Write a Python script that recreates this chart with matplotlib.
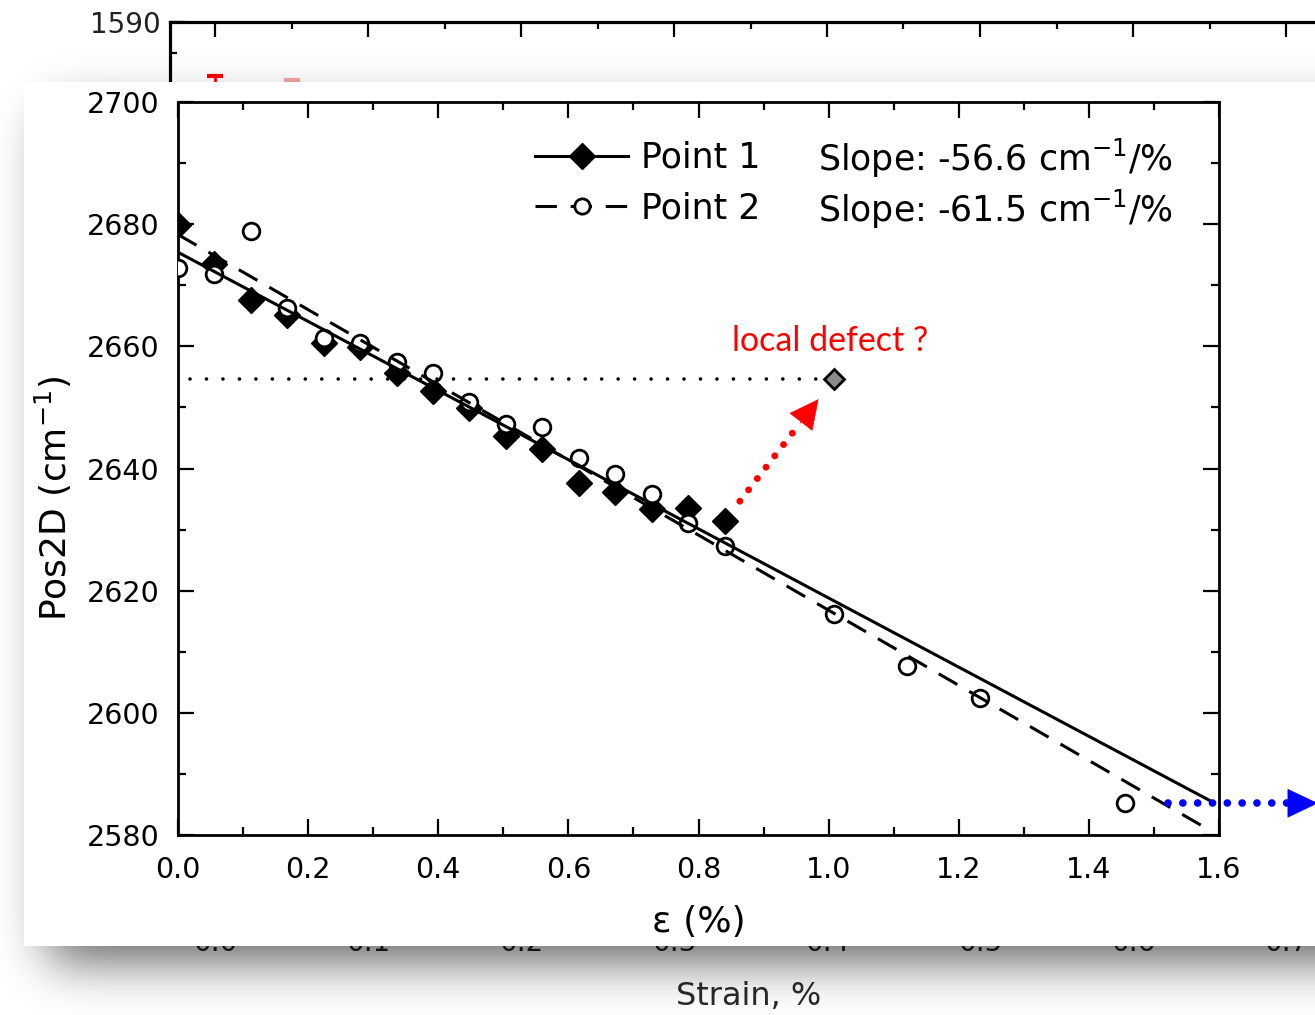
import math
import numpy as np
import matplotlib
matplotlib.use("Agg")
import matplotlib.pyplot as plt
from matplotlib.lines import Line2D
from matplotlib.patches import Rectangle
from matplotlib import font_manager as fm
from matplotlib.ticker import MultipleLocator, FixedLocator, FormatStrFormatter

# ---------------- data (front chart) ----------------
strain_p1 = [0.000, 0.056, 0.112, 0.168, 0.224, 0.280, 0.336, 0.392,
             0.448, 0.504, 0.560, 0.616, 0.672, 0.728, 0.784, 0.840]
pos2d_p1 = [2679.9, 2673.5, 2667.6, 2665.1, 2660.5, 2659.9, 2655.6, 2652.7,
            2649.9, 2645.3, 2643.2, 2637.6, 2636.1, 2633.4, 2633.5, 2631.4]

strain_p2 = [0.000, 0.056, 0.112, 0.168, 0.224, 0.280, 0.336, 0.392,
             0.448, 0.504, 0.560, 0.616, 0.672, 0.728, 0.784, 0.840,
             1.008, 1.120, 1.232, 1.456]
pos2d_p2 = [2672.8, 2671.8, 2678.9, 2666.3, 2661.4, 2660.5, 2657.4, 2655.6,
            2650.9, 2647.3, 2646.8, 2641.7, 2639.1, 2635.8, 2631.1, 2627.3,
            2616.2, 2607.7, 2602.4, 2585.2]

outlier_strain = [1.008]
outlier_pos2d = [2654.6]

fit1_intercept, fit1_slope = 2675.4, -56.6
fit2_intercept, fit2_slope = 2678.3, -61.5
fit_range = [0.0, 1.585]

series_labels = ["Point 1", "Point 2"]
slope_labels = ["Slope: -56.6 cm$^{-1}$/%", "Slope: -61.5 cm$^{-1}$/%"]
annotation_text = "local defect ?"
x_ticks = [0.0, 0.2, 0.4, 0.6, 0.8, 1.0, 1.2, 1.4, 1.6]
y_ticks = [2580, 2600, 2620, 2640, 2660, 2680, 2700]
x_label = "ε (%)"
y_label = "Pos2D (cm$^{-1}$)"

# ---------------- data (background chart, mostly hidden) ----------------
bg_x_ticks = [0.0, 0.1, 0.2, 0.3, 0.4, 0.5, 0.6, 0.7]
bg_y_ticks = [1590]
bg_strain = [0.0, 0.05]
bg_pos = [1582.9, 1582.5]
bg_err = [2.75, 2.8]
bg_x_label = "Strain, %"

# ---------------- fonts ----------------
available = {f.name for f in fm.fontManager.ttflist}


def pick(*names):
    for n in names:
        if n in available:
            return n
    return "DejaVu Sans"


plt.rcParams["font.family"] = ["DejaVu Sans"]
plt.rcParams["mathtext.fontset"] = "dejavusans"
plt.rcParams["mathtext.default"] = "regular"
red_font = pick("Lato", "Open Sans", "Noto Sans")

W, H = 1315, 1015
fig = plt.figure(figsize=(W / 100, H / 100), dpi=100)
fig.patch.set_facecolor("white")


def box(l, t, r, b):
    return [l / W, 1 - b / H, (r - l) / W, (b - t) / H]


# ---------------- background chart ----------------
bg = fig.add_axes(box(170, 22, 1360, 920), zorder=0)
bg.set_xlim(-45 / 1530, (1360 - 215) / 1530)
bg.set_ylim(bg_y_ticks[0] - 898 / 12.4, bg_y_ticks[0])
bg.spines["right"].set_visible(False)
for s in ["top", "left", "bottom"]:
    bg.spines[s].set_linewidth(2.3)
bg.xaxis.set_major_locator(FixedLocator(bg_x_ticks))
bg.xaxis.set_minor_locator(MultipleLocator(0.05))
bg.yaxis.set_major_locator(FixedLocator(bg_y_ticks))
bg.yaxis.set_minor_locator(MultipleLocator(2.5))
bg.xaxis.set_major_formatter(FormatStrFormatter("%.1f"))
bg.yaxis.set_major_formatter(FormatStrFormatter("%d"))
bg.tick_params(which="both", direction="in", top=True, right=False, width=1.6)
bg.tick_params(which="major", length=11)
bg.tick_params(which="minor", length=5)
bg.tick_params(axis="x", labelsize=20, pad=6.5, labelcolor="#222222")
bg.tick_params(axis="y", labelsize=20, pad=7, labelcolor="#222222")
bg.errorbar(bg_strain[:1], bg_pos[:1], yerr=bg_err[:1], fmt="s", color="red",
            ms=10, capsize=6, lw=2, capthick=3)
bg.errorbar(bg_strain[1:], bg_pos[1:], yerr=bg_err[1:], fmt="o", color="#f4a3a3",
            ms=10, capsize=6, lw=2, capthick=3)
bg.set_xlabel(bg_x_label, fontsize=23, color="#2a2a2a")
bg.xaxis.set_label_coords(749 / W, 1 - 981 / H, transform=fig.transFigure)

# ---------------- drop shadow of front panel ----------------
sh = fig.add_axes([0, 0, 1, 1], zorder=0.5)
sh.set_axis_off()
xs = np.arange(W) + 0.5
ys = np.arange(H) + 0.5
erf = np.vectorize(math.erf)


def Phi(z):
    return 0.5 * (1 + erf(z / math.sqrt(2)))


sig = 25.0
fxv = Phi((xs - 49) / sig) - Phi((xs - 1600) / sig)
fyv = Phi((ys - 112) / sig) - Phi((ys - 961) / sig)
alpha = 0.62 * np.outer(fyv, fxv)
img = np.zeros((H, W, 4))
img[..., 3] = alpha
sh.imshow(img, extent=[0, W, H, 0], interpolation="nearest", aspect="auto")
sh.set_xlim(0, W)
sh.set_ylim(H, 0)

# front panel
panel = Rectangle((24 / W, 1 - 946 / H), 1.2, (946 - 82) / H,
                  transform=fig.transFigure, facecolor="white",
                  edgecolor="none", zorder=1)
fig.add_artist(panel)

# ---------------- front chart ----------------
ax = fig.add_axes(box(178, 102, 1219, 835), zorder=2)
ax.patch.set_alpha(0)
ax.set_xlim(0, 1.6)
ax.set_ylim(2580, 2700)
for s in ax.spines.values():
    s.set_linewidth(2.0)
ax.xaxis.set_major_locator(FixedLocator(x_ticks))
ax.xaxis.set_minor_locator(MultipleLocator(0.1))
ax.yaxis.set_major_locator(FixedLocator(y_ticks))
ax.yaxis.set_minor_locator(MultipleLocator(10))
ax.xaxis.set_major_formatter(FormatStrFormatter("%.1f"))
ax.yaxis.set_major_formatter(FormatStrFormatter("%d"))
ax.tick_params(which="both", direction="in", top=True, right=True, width=1.6,
               labelsize=20.5)
ax.tick_params(which="major", length=11.5)
ax.tick_params(which="minor", length=5.8)
ax.tick_params(axis="x", pad=15)
ax.tick_params(axis="y", pad=13)

dash = (0, (7, 4.5))
ax.plot(strain_p1, pos2d_p1, "D", ms=13, mfc="black", mec="black", mew=1,
        ls="none", zorder=3)
ax.plot(strain_p2, pos2d_p2, "o", ms=12, mfc="white", mec="black", mew=2.0,
        ls="none", zorder=4)
fx = np.array(fit_range)
ax.plot(fx, fit1_intercept + fit1_slope * fx, color="black", lw=2.2, zorder=5)
ax.plot(fx, fit2_intercept + fit2_slope * fx, color="black", lw=2.2, ls=dash,
        zorder=5)

# outlier + guide
ax.plot([0.018, outlier_strain[0] - 0.008], [outlier_pos2d[0]] * 2, color="black",
        lw=2.6, ls=(0, (0.01, 4.55)), dash_capstyle="round", zorder=5)
ax.plot(outlier_strain, outlier_pos2d, "D", ms=10.5, mfc="#8c8c8c", mec="black",
        mew=2.0, zorder=6, clip_on=False)

# red arrow from last Point 1 towards the outlier
p = np.array([strain_p1[-1], pos2d_p1[-1]])
q = np.array([outlier_strain[0], outlier_pos2d[0]])
start = p + 0.14 * (q - p)
base = p + 0.69 * (q - p)
tip = p + 0.86 * (q - p)
ax.plot([start[0], base[0]], [start[1], base[1]], color="red", lw=5,
        ls=(0, (0.01, 2.05)), dash_capstyle="round", zorder=7, clip_on=False)
ax.annotate("", xy=tip, xytext=base,
            arrowprops=dict(arrowstyle="-|>,head_length=1.0,head_width=0.5",
                            mutation_scale=20, color="red", lw=0.5,
                            shrinkA=0, shrinkB=0), zorder=7)

# blue arrow at level of last Point 2
yb = pos2d_p2[-1]
ax.plot([1.522, 1.705], [yb, yb], color="#0000ff", lw=5.5,
        ls=(0, (0.01, 1.93)), dash_capstyle="round", zorder=7, clip_on=False)
ax.annotate("", xy=(1.752, yb), xytext=(1.705, yb), annotation_clip=False,
            arrowprops=dict(arrowstyle="-|>,head_length=1.05,head_width=0.5",
                            mutation_scale=20, color="#0000ff", lw=0.5,
                            shrinkA=0, shrinkB=0), zorder=7)

ax.text((830 - 178) / 1041, 1 - (341 - 102) / 733, annotation_text,
        transform=ax.transAxes, ha="center", va="center", fontsize=24.5,
        family=red_font, color="red", zorder=8)

# legend
handles = [
    Line2D([], [], color="black", lw=2.2, marker="D", ms=13, mfc="black",
           mec="black", mew=1),
    Line2D([], [], color="black", lw=2.2, ls=dash, marker="o", ms=11,
           mfc="white", mec="black", mew=2.0),
]
ax.legend(handles, series_labels, loc="upper left",
          bbox_to_anchor=((535 - 178) / 1041, 1 - (141 - 102) / 733),
          frameon=False, fontsize=25, handlelength=2.68, handletextpad=0.37,
          labelspacing=0.47, borderpad=0, borderaxespad=0)
for lbl, yc in zip(slope_labels, [171, 222]):
    ax.text((818 - 178) / 1041, 1 - (yc - 102) / 733, lbl, transform=ax.transAxes,
            ha="left", va="baseline", fontsize=25, zorder=8)

ax.set_xlabel(x_label, fontsize=26)
ax.xaxis.set_label_coords(0.5, (835 - 905) / 733)
ax.set_ylabel(y_label, fontsize=26)
ax.yaxis.set_label_coords((74 - 178) / 1041, (835 - 498.5) / 733)

fig.savefig("out.png", dpi=100)
